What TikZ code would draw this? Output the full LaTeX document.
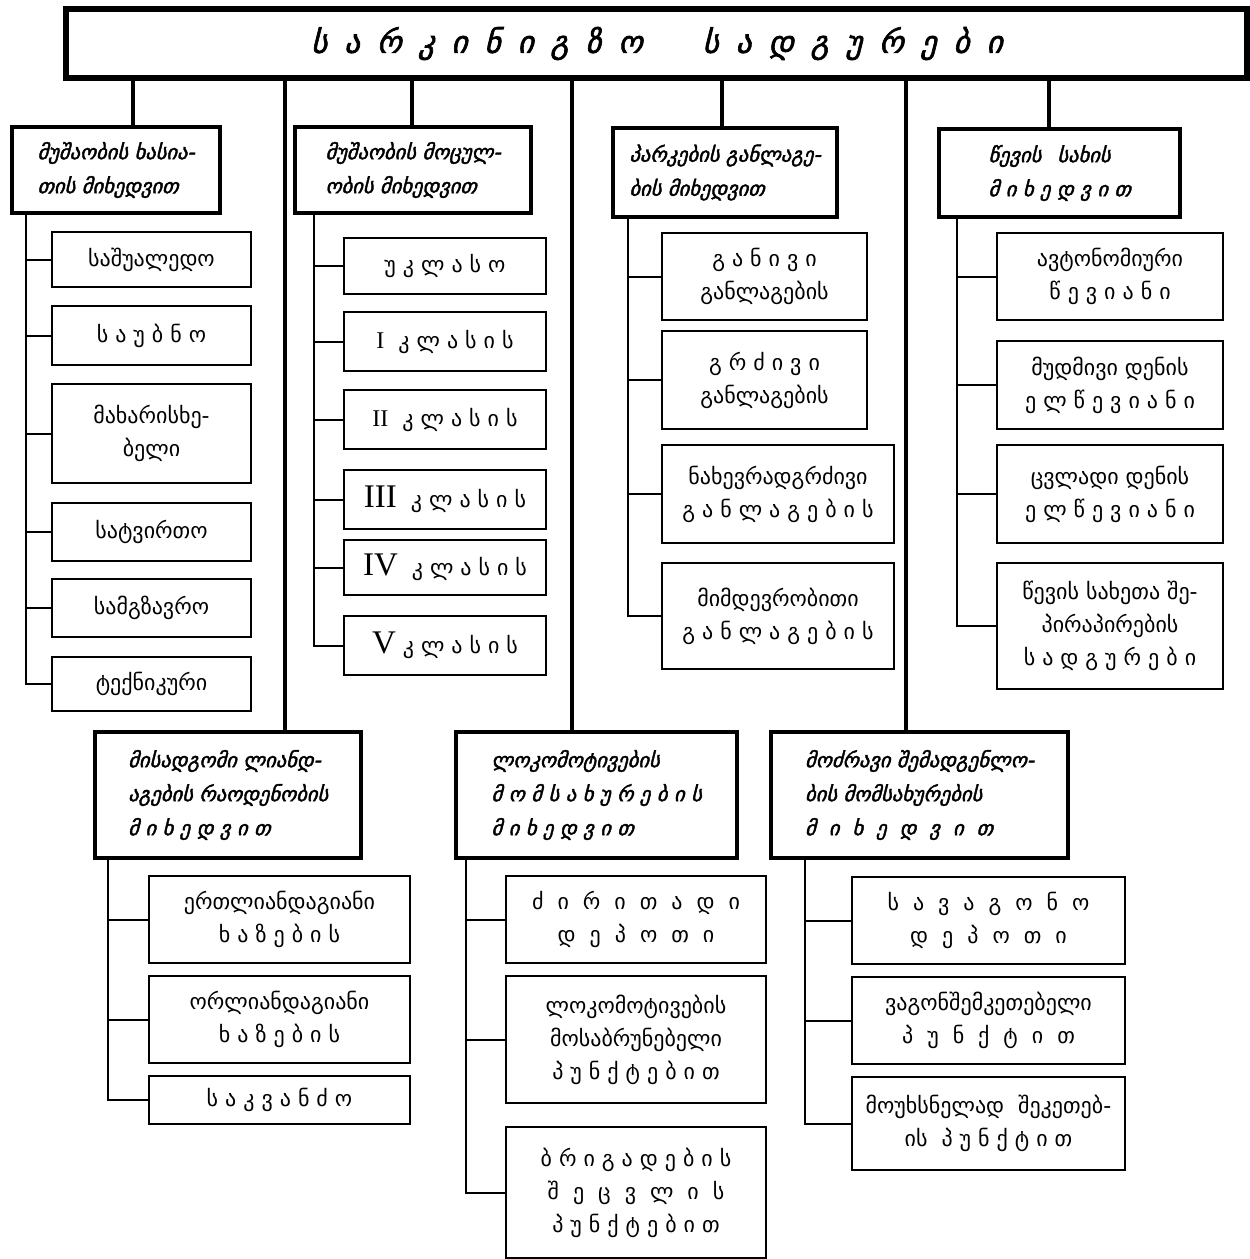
\documentclass[tikz,border=0pt]{standalone}
\usepackage{fontspec}
\newfontfamily\geofont{DejaVu Sans}
\newfontfamily\geoital[FakeSlant=0.25,FakeBold=2]{DejaVu Sans}
\newfontfamily\romfont{Liberation Serif}
\newcommand\rmn[2]{{\romfont\fontsize{#1}{#1}\selectfont #2}}
\newcommand\widesp{\spaceskip=17pt\relax}

\begin{document}
\begin{tikzpicture}
  [x=1pt,y=-1pt,
   box/.style={draw,rectangle,anchor=north west,align=center,inner sep=2pt},
   titlebox/.style={box,line width=6pt,font={\geoital\fontsize{31}{34}\selectfont\widesp}},
   head/.style={box,align=left,line width=4pt,font=\geoital\fontsize{20.5}{34}\selectfont},
   entry/.style={box,line width=2pt,font=\geofont\fontsize{22}{33}\selectfont},
   link/.style={line width=2pt},
   trunk/.style={line width=4pt}]
  \fill[white] (0,0) rectangle (1247,1259);
  \node[titlebox,minimum width=1181pt,minimum height=69pt] (title) at (63,6)
    {ს ა რ კ ი ნ ი გ ზ ო\hspace{60pt}ს ა დ გ უ რ ე ბ ი};

  \node[head,minimum width=208pt,minimum height=86pt] (h1) at (10,125) {მუშაობის ხასია-\\თის მიხედვით};
  \node[head,minimum width=236pt,minimum height=86pt] (h2) at (293,125) {მუშაობის მოცულ-\\ობის მიხედვით};
  \node[head,minimum width=224pt,minimum height=89pt] (h3) at (611,126) {პარკების განლაგე-\\ბის მიხედვით};
  \node[head,minimum width=241pt,minimum height=88pt] (h4) at (937,127) {წევის\hspace{16pt}სახის\\მ ი ხ ე დ ვ ი თ};
  \node[head,minimum width=266pt,minimum height=126pt] (h5) at (93,730) {მისადგომი ლიანდ-\\აგების რაოდენობის\\ მ ი ხ ე დ ვ ი თ};
  \node[head,minimum width=281pt,minimum height=126pt] (h6) at (454,730) {ლოკომოტივების\\მ ო მ ს ა ხ უ რ ე ბ ი ს\\მ ი ხ ე დ ვ ი თ};
  \node[head,minimum width=297pt,minimum height=126pt] (h7) at (769,730) {მოძრავი შემადგენლო-\\ბის მომსახურების\\მ~ ი~ ხ~ ე~ დ~ ვ~ ი~ თ};

  \node[entry,minimum width=199pt,minimum height=55pt] (a1) at (51,231) {საშუალედო};
  \node[entry,minimum width=199pt,minimum height=59pt] (a2) at (51,305) {ს ა უ ბ ნ ო};
  \node[entry,minimum width=199pt,minimum height=99pt] (a3) at (51,383) {მახარისხე-\\ბელი};
  \node[entry,minimum width=199pt,minimum height=58pt] (a4) at (51,502) {სატვირთო};
  \node[entry,minimum width=199pt,minimum height=58pt] (a5) at (51,578) {სამგზავრო};
  \node[entry,minimum width=199pt,minimum height=54pt] (a6) at (51,656) {ტექნიკური};

  \node[entry,minimum width=202pt,minimum height=56pt] (b1) at (343,237) {უ კ ლ ა ს ო};
  \node[entry,minimum width=202pt,minimum height=59pt] (b2) at (343,311) {\rmn{24}{I}\ \ კ ლ ა ს ი ს};
  \node[entry,minimum width=202pt,minimum height=59pt] (b3) at (343,389) {\rmn{24}{II}\ \ კ ლ ა ს ი ს};
  \node[entry,minimum width=202pt,minimum height=59pt] (b4) at (343,469) {\rmn{33}{III}\ \ კ ლ ა ს ი ს};
  \node[entry,minimum width=202pt,minimum height=55pt] (b5) at (343,539) {\rmn{33}{IV}\ \ კ ლ ა ს ი ს};
  \node[entry,minimum width=202pt,minimum height=59pt] (b6) at (343,615) {\rmn{33}{V}\ კ ლ ა ს ი ს};

  \node[entry,minimum width=205pt,minimum height=87pt] (c1) at (661,232) {გ ა ნ ი ვ ი\\განლაგების};
  \node[entry,minimum width=205pt,minimum height=98pt] (c2) at (661,330) {გ რ ძ ი ვ ი\\განლაგების};
  \node[entry,minimum width=232pt,minimum height=98pt] (c3) at (661,444) {ნახევრადგრძივი\\გ ა ნ ლ ა გ ე ბ ი ს};
  \node[entry,minimum width=232pt,minimum height=106pt] (c4) at (661,562) {მიმდევრობითი\\გ ა ნ ლ ა გ ე ბ ი ს};

  \node[entry,minimum width=226pt,minimum height=87pt] (d1) at (996,232) {ავტონომიური\\წ ე ვ ი ა ნ ი};
  \node[entry,minimum width=226pt,minimum height=88pt] (d2) at (996,340) {მუდმივი დენის\\ე ლ წ ე ვ ი ა ნ ი};
  \node[entry,minimum width=226pt,minimum height=98pt] (d3) at (996,444) {ცვლადი დენის\\ე ლ წ ე ვ ი ა ნ ი};
  \node[entry,minimum width=226pt,minimum height=126pt] (d4) at (996,562) {წევის სახეთა შე-\\პირაპირების\\ს ა დ გ უ რ ე ბ ი};

  \node[entry,minimum width=261pt,minimum height=87pt] (e1) at (148,875) {ერთლიანდაგიანი\\ხ ა ზ ე ბ ი ს};
  \node[entry,minimum width=261pt,minimum height=87pt] (e2) at (148,975) {ორლიანდაგიანი\\ხ ა ზ ე ბ ი ს};
  \node[entry,minimum width=261pt,minimum height=48pt] (e3) at (148,1075) {ს ა კ ვ ა ნ ძ ო};

  \node[entry,minimum width=260pt,minimum height=87pt] (f1) at (505,875) {ძ~ ი~ რ~ ი~ თ~ ა~ დ~ ი\\დ~ ე~ პ~ ო~ თ~ ი};
  \node[entry,minimum width=260pt,minimum height=127pt] (f2) at (505,975) {ლოკომოტივების\\მოსაბრუნებელი\\პ უ ნ ქ ტ ე ბ ი თ};
  \node[entry,minimum width=260pt,minimum height=131pt] (f3) at (505,1126) {ბ რ ი გ ა დ ე ბ ი ს\\შ~ ე~ ც~ ვ~ ლ~ ი~ ს\\პ უ ნ ქ ტ ე ბ ი თ};

  \node[entry,minimum width=273pt,minimum height=87pt] (g1) at (851,876) {ს~ ა~ ვ~ ა~ გ~ ო~ ნ~ ო\\დ~ ე~ პ~ ო~ თ~ ი};
  \node[entry,minimum width=273pt,minimum height=87pt] (g2) at (851,976) {ვაგონშემკეთებელი\\პ~ უ~ ნ~ ქ~ ტ~ ი~ თ};
  \node[entry,minimum width=273pt,minimum height=93pt] (g3) at (851,1076) {მოუხსნელად~~შეკეთებ-\\ის~~პ უ ნ ქ ტ ი თ};

  \foreach \n/\d in {h1/17,h2/-1,h3/-3,h4/-11}
    \draw[trunk] ([xshift=\d pt]\n.north) -- ([xshift=\d pt]\n.north |- title.south);
  \foreach \n/\d in {h5/57,h6/-25,h7/-14}
    \draw[trunk] ([xshift=\d pt]\n.north) -- ([xshift=\d pt]\n.north |- title.south);

  \foreach \i in {1,...,6}
    \draw[link] ([xshift=16pt]h1.south west) |- (a\i.west);
  \foreach \i in {1,...,6}
    \draw[link] ([xshift=21pt]h2.south west) |- (b\i.west);
  \foreach \i in {1,...,4}
    \draw[link] ([xshift=17pt]h3.south west) |- (c\i.west);
  \foreach \i in {1,...,4}
    \draw[link] ([xshift=20pt]h4.south west) |- (d\i.west);
  \foreach \i in {1,...,3}
    \draw[link] ([xshift=15pt]h5.south west) |- (e\i.west);
  \foreach \i in {1,...,3}
    \draw[link] ([xshift=12pt]h6.south west) |- (f\i.west);
  \foreach \i in {1,...,3}
    \draw[link] ([xshift=36pt]h7.south west) |- (g\i.west);
\end{tikzpicture}
\end{document}
